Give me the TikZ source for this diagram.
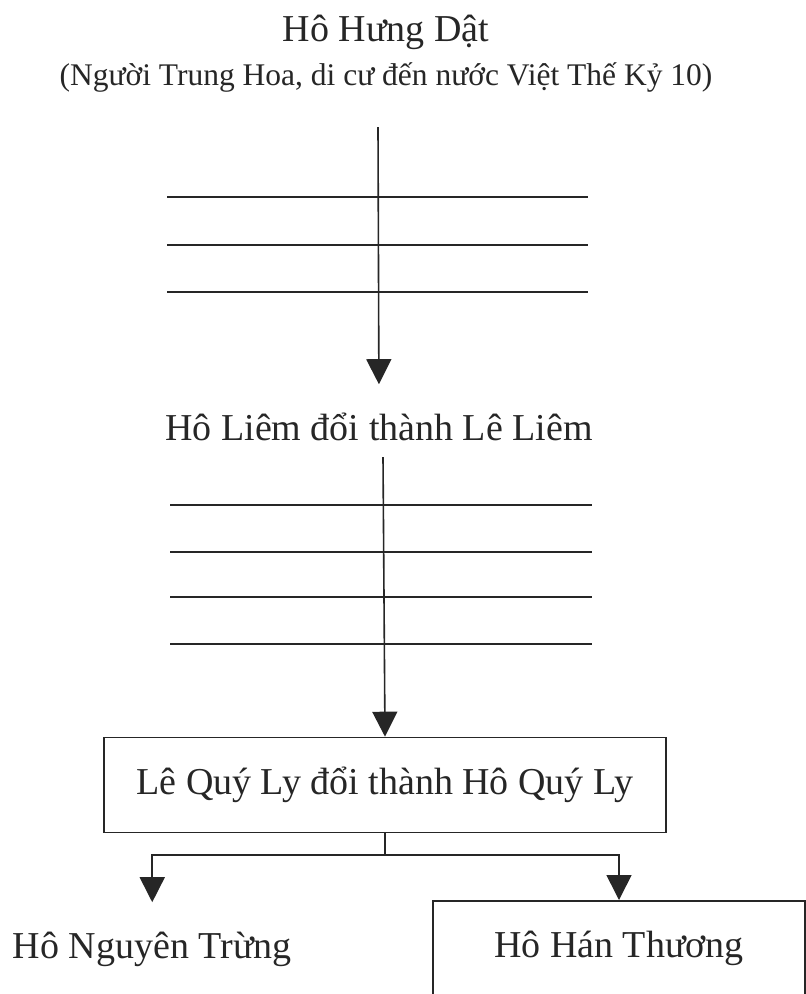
\documentclass[tikz,border=0pt]{standalone}
\usepackage{fontspec}
\setmainfont{Liberation Serif}
\usepackage{tikz}
\usetikzlibrary{arrows.meta,positioning}

\begin{document}
\begin{tikzpicture}[
  x=1pt, y=-1pt,
  >={Triangle[width=25pt,length=25pt]},
  line width=1.6pt,
  color=black!85,
  person/.style={inner sep=0pt, text height=27pt, text depth=9pt,
                 font=\fontsize{38}{44}\selectfont},
  note/.style={inner sep=0pt, font=\fontsize{31.5}{36}\selectfont},
  box/.style={person, draw, inner sep=0pt}
]
\useasboundingbox (0,0) rectangle (806,994);
\clip (0,0) rectangle (806,994);

\node[person, anchor=base] (hung) at (386,41) {Hô Hưng Dật};
\node[note, anchor=base] (hungnote) at (386,85) {(Người Trung Hoa, di cư đến nước Việt Thế Kỷ 10)};
\node[person, anchor=base] (liem) at (379,440) {Hô Liêm đổi thành Lê Liêm};
\node[box, minimum width=562pt, minimum height=95pt] (quyly) at (385,785) {Lê Quý Ly đổi thành Hô Quý Ly};
\node[person, anchor=base west] (nguyentrung) at (12,958) {Hô Nguyên Trừng};
\node[box, anchor=north, minimum width=372pt, minimum height=96pt] (hanthuong) at (619,900) {Hô Hán Thương};

\coordinate (gen1) at (378,127);
\coordinate (gen2) at (383,457);
\coordinate (fork) at (385,855);

% generations
\foreach \y in {197,245,292} \draw (167,\y) -- (588,\y);
\foreach \y in {505,552,597,644} \draw (170,\y) -- (592,\y);

\draw[->, shorten >=28pt] (gen1) -- (liem.north);
\draw[->] (gen2) -- (quyly.north);
\draw (quyly.south) -- (fork);
\draw[->, shorten >=28pt] (fork) -| (nguyentrung.north);
\draw[->] (fork) -| (hanthuong.north);
\end{tikzpicture}
\end{document}
